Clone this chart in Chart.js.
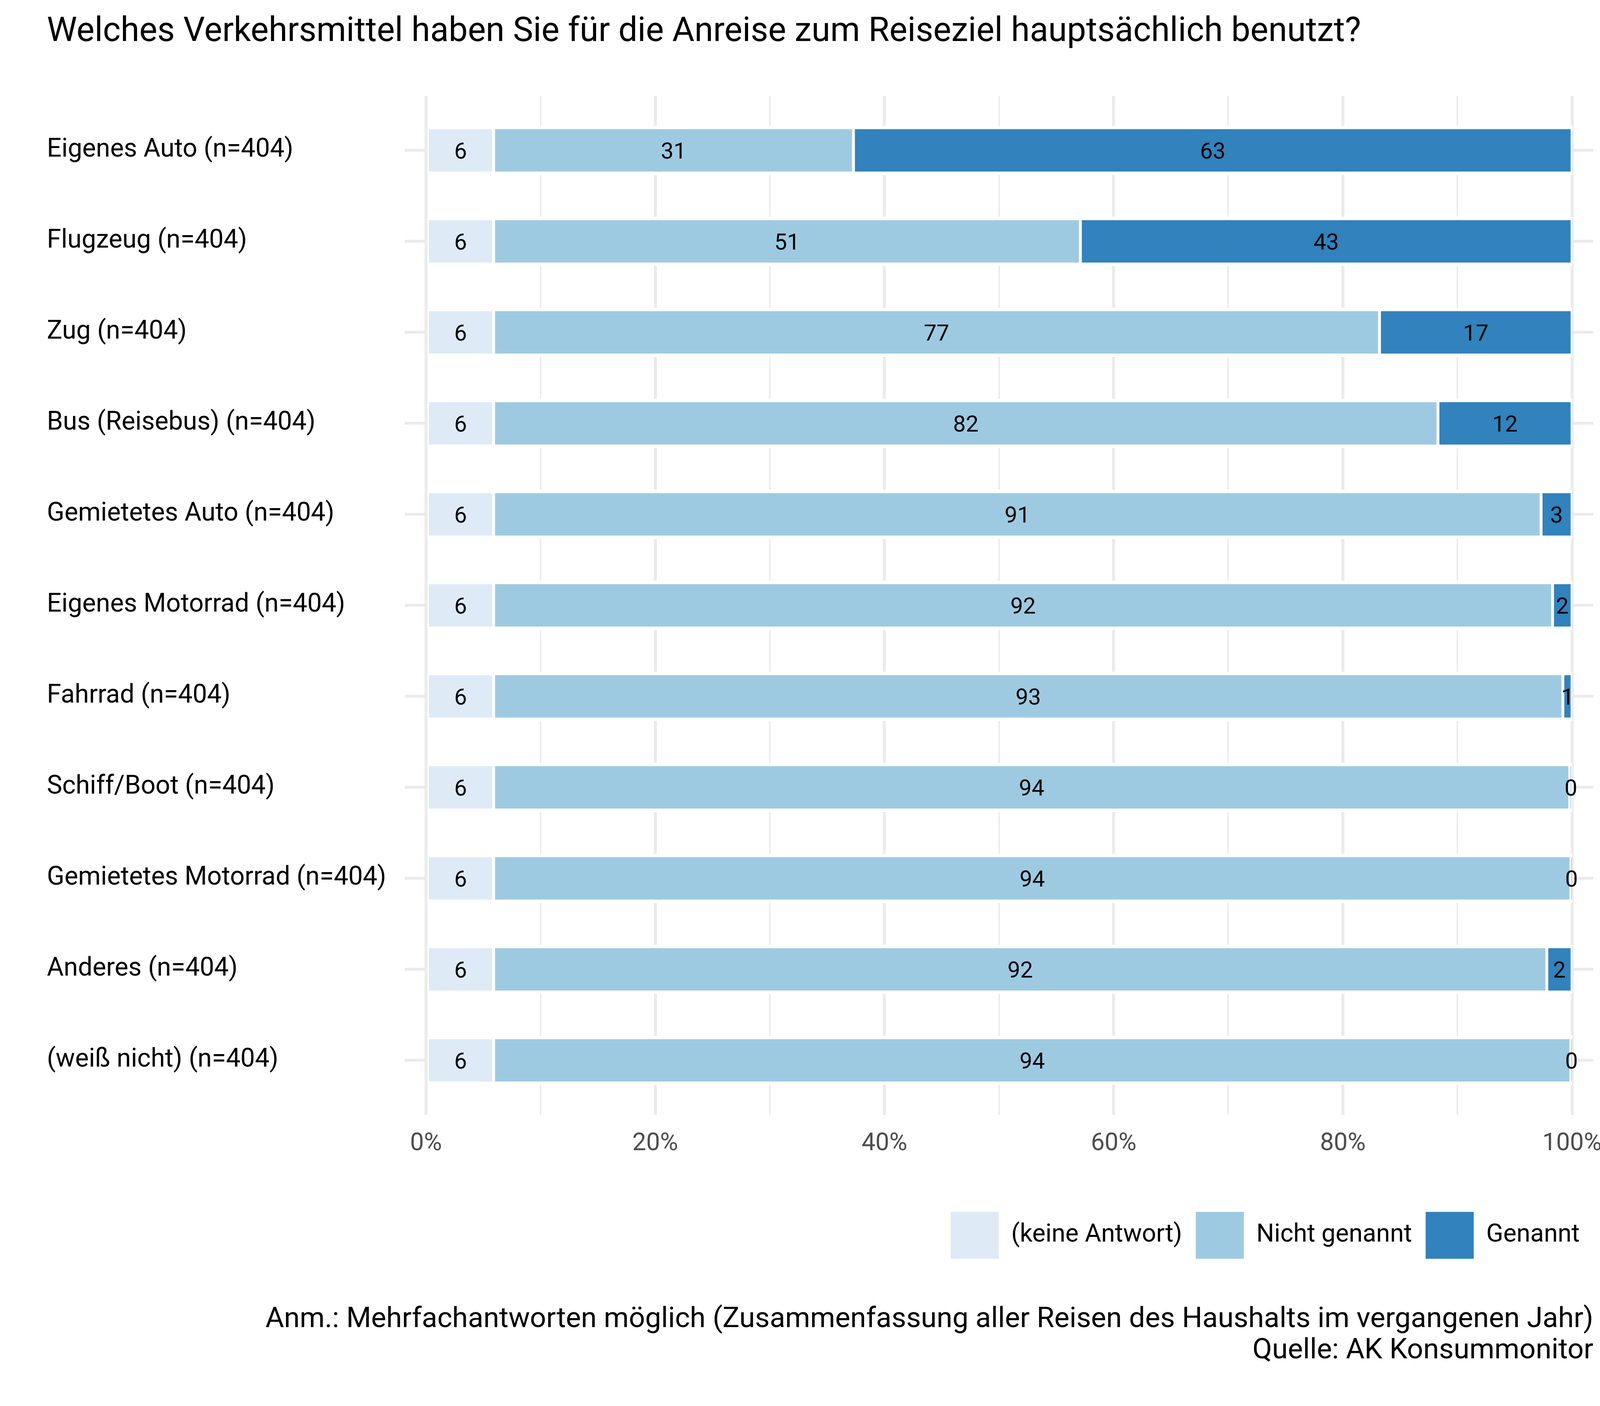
<!DOCTYPE html>
<html lang="de">
<head>
<meta charset="utf-8">
<title>Verkehrsmittel Anreise</title>
<script src="https://cdn.jsdelivr.net/npm/chart.js@4.4.1/dist/chart.umd.min.js"></script>
<style>
  html, body { margin: 0; padding: 0; background: #fff; }
  canvas { display: block; }
</style>
</head>
<body>
<canvas id="chart" width="4200" height="3600"></canvas>
<script>
// Werte (Anteile in %)
const categories = [
  "Eigenes Auto (n=404)",
  "Flugzeug (n=404)",
  "Zug (n=404)",
  "Bus (Reisebus) (n=404)",
  "Gemietetes Auto (n=404)",
  "Eigenes Motorrad (n=404)",
  "Fahrrad (n=404)",
  "Schiff/Boot (n=404)",
  "Gemietetes Motorrad (n=404)",
  "Anderes (n=404)",
  "(weiß nicht) (n=404)"
];
const keineAntwort = [5.9, 5.9, 5.9, 5.9, 5.9, 5.9, 5.9, 5.9, 5.9, 5.9, 5.9];
const nichtGenannt = [31.4, 51.2, 77.3, 82.4, 91.4, 92.4, 93.3, 93.9, 94.0, 91.9, 94.0];
const genannt      = [62.7, 42.9, 16.8, 11.7, 2.7, 1.7, 0.8, 0.2, 0.1, 2.2, 0.1];

const seriesNames  = ["(keine Antwort)", "Nicht genannt", "Genannt"];
const seriesColors = ["#deebf7", "#9ecae1", "#3182bd"];
const xTicks = [0, 10, 20, 30, 40, 50, 60, 70, 80, 90, 100];

const titleText = "Welches Verkehrsmittel haben Sie für die Anreise zum Reiseziel hauptsächlich benutzt?";
const captionLines = [
  "Anm.: Mehrfachantworten möglich (Zusammenfassung aller Reisen des Haushalts im vergangenen Jahr)",
  "Quelle: AK Konsummonitor"
];

const FONT = "Roboto";
const GRID = "#ebebeb";

function setTicks(scale) {
  scale.ticks = xTicks.map(v => ({ value: v }));
}
// breite Linien bei 0/20/40..., schmale dazwischen
function gridWidth(ctx) {
  return ctx.tick && ctx.tick.value % 20 === 0 ? 7.6 : 3.8;
}

// Zahlen mittig in die Balkenstücke schreiben
const barLabels = {
  id: "barLabels",
  afterDatasetsDraw(chart) {
    const ctx = chart.ctx;
    ctx.save();
    ctx.font = "58px " + FONT;
    ctx.fillStyle = "#000";
    ctx.textAlign = "center";
    ctx.textBaseline = "alphabetic";
    chart.data.datasets.forEach((ds, i) => {
      chart.getDatasetMeta(i).data.forEach((bar, j) => {
        const p = bar.getProps(["x", "base", "y"], true);
        ctx.fillText(String(Math.round(ds.data[j])), (p.x + p.base) / 2, p.y + 21);
      });
    });
    ctx.restore();
  }
};

function makeDataset(label, data, color) {
  return {
    label,
    data,
    backgroundColor: color,
    borderColor: "#ffffff",
    borderWidth: { top: 9, bottom: 9, left: 4, right: 4 },
    borderSkipped: false,
    barThickness: 126
  };
}

function drawChart() {
  const ctx = document.getElementById("chart");
  new Chart(ctx, {
    type: "bar",
    data: {
      labels: categories,
      datasets: [
        makeDataset(seriesNames[0], keineAntwort, seriesColors[0]),
        makeDataset(seriesNames[1], nichtGenannt, seriesColors[1]),
        makeDataset(seriesNames[2], genannt, seriesColors[2])
      ]
    },
    plugins: [barLabels],
    options: {
      indexAxis: "y",
      responsive: false,
      devicePixelRatio: 1,
      animation: false,
      layout: { padding: { top: 0, left: 120, right: 121, bottom: 0 } },
      scales: {
        x: {
          type: "linear",
          stacked: true,
          min: -1.86,
          max: 101.86,
          afterBuildTicks: setTicks,
          afterFit: s => { s.height = 236.5; },
          border: { display: false },
          grid: { color: GRID, lineWidth: gridWidth, drawTicks: true, tickLength: 23 },
          ticks: {
            autoSkip: false,
            maxRotation: 0,
            padding: 37,
            color: "#4d4d4d",
            font: { family: FONT, size: 63 },
            callback: v => (v % 20 === 0 ? v + "%" : "")
          }
        },
        xTop: {
          type: "linear",
          position: "top",
          min: -1.86,
          max: 101.86,
          afterBuildTicks: setTicks,
          afterFit: s => { s.height = 22.5; },
          border: { display: false },
          grid: { color: GRID, lineWidth: gridWidth, drawOnChartArea: false, drawTicks: true, tickLength: 23 },
          ticks: { display: false }
        },
        y: {
          stacked: true,
          afterFit: s => { s.width = 916; },
          border: { display: false },
          grid: { color: GRID, lineWidth: 7.6, offset: false, drawTicks: false },
          ticks: {
            crossAlign: "far",
            padding: 0,
            color: "#000",
            font: { family: FONT, size: 66 }
          }
        }
      },
      plugins: {
        tooltip: { enabled: false },
        title: {
          display: true,
          text: titleText,
          align: "start",
          color: "#000",
          font: { family: FONT, size: 87, weight: "normal", lineHeight: 1.2 },
          padding: { top: 31, bottom: 110.6 }
        },
        subtitle: {
          display: true,
          position: "bottom",
          align: "end",
          text: captionLines,
          color: "#000",
          font: { family: FONT, size: 73, weight: "normal", lineHeight: 1.096 },
          padding: { top: 107, bottom: 100 }
        },
        legend: {
          position: "bottom",
          align: "end",
          labels: {
            color: "#000",
            font: { family: FONT, size: 64 },
            boxWidth: 123,
            boxHeight: 120,
            padding: 35,
            generateLabels: chart => chart.data.datasets.map((ds, i) => ({
              text: ds.label,
              fillStyle: ds.backgroundColor,
              strokeStyle: ds.backgroundColor,
              lineWidth: 0,
              fontColor: "#000",
              hidden: false,
              datasetIndex: i
            }))
          }
        }
      }
    }
  });
}

document.fonts.load("64px Roboto").then(drawChart, drawChart);
</script>
</body>
</html>
